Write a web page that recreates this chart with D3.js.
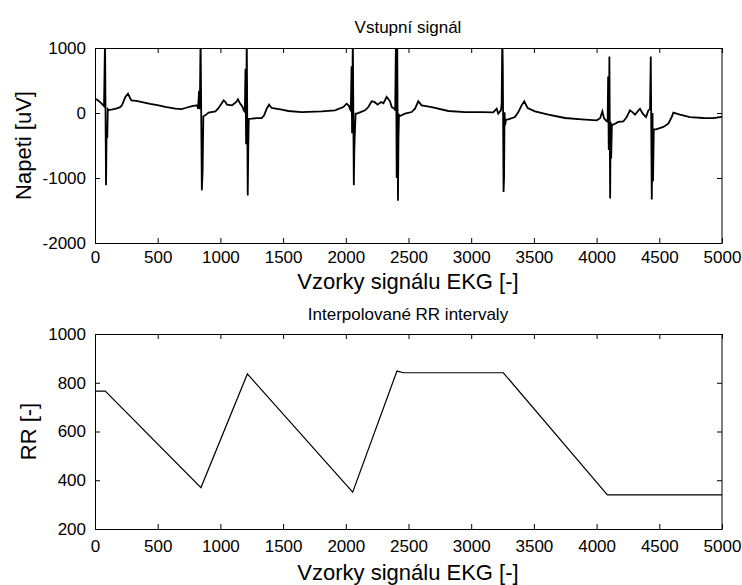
<!DOCTYPE html>
<html>
<head>
<meta charset="utf-8">
<script src="https://cdn.jsdelivr.net/npm/d3@7"></script>
<style>
  html, body { margin: 0; padding: 0; background: #fff; }
  svg { display: block; font-family: "Liberation Sans", Arial, sans-serif; }
</style>
</head>
<body>
<svg id="chart" width="742" height="585"></svg>
<script>
// ---------- DATA ----------
const xTicks = [0, 500, 1000, 1500, 2000, 2500, 3000, 3500, 4000, 4500, 5000];
const ecgYTicks = [-2000, -1000, 0, 1000];
const rrYTicks = [200, 400, 600, 800, 1000];

// ECG input signal: sample index / voltage [uV] (estimated vertices)
const ecgSamples = [
  0, 20, 45, 65, 72,
  80, 88, 92, 98, 102, 110,
  140, 175, 200, 215, 242, 263, 275, 290, 330, 375, 440, 508, 570, 641, 690, 721, 774, 814, 822, 830, 836,
  842, 852, 858, 864,
  880, 906, 960, 981, 1008, 1026, 1040, 1053, 1093, 1127, 1140, 1150, 1159, 1175, 1186, 1195,
  1200, 1205, 1210, 1218, 1222, 1226,
  1250, 1290, 1329, 1349, 1369, 1388, 1409, 1489, 1542, 1648, 1808, 1914, 1980, 2007, 2025, 2034, 2040,
  2046, 2050, 2056, 2064, 2068, 2072, 2078,
  2087, 2113, 2153, 2180, 2206, 2228, 2254, 2281, 2300, 2326, 2353, 2366, 2387, 2394,
  2400, 2406, 2410, 2416, 2420, 2424,
  2432, 2472, 2525, 2552, 2578, 2605, 2685, 2818, 2951, 3084, 3176, 3203, 3216, 3237, 3243,
  3248, 3252, 3258, 3262, 3266, 3270, 3278,
  3296, 3349, 3376, 3402, 3423, 3450, 3509, 3615, 3748, 3881, 4001, 4028, 4046, 4059, 4081, 4088,
  4092, 4097, 4102, 4108, 4112, 4116, 4122,
  4133, 4173, 4213, 4240, 4266, 4288, 4306, 4346, 4368, 4394, 4413, 4426,
  4432, 4440, 4446, 4450, 4456,
  4474, 4532, 4572, 4599, 4612, 4665, 4745, 4851, 4931, 4984, 5000
];
const ecgValues = [
  220, 200, 160, 120, 105,
  1150, -1110, -370, -370, 60, 45,
  55, 70, 90, 118, 246, 298, 250, 195, 185, 169, 140, 118, 90, 66, 60, 77, 107, 118, 66, 340, 60,
  1200, -1190, -900, -50,
  -36, 5, 26, 66, 143, 195, 170, 128, 118, 169, 210, 170, 140, 100, 41, 20,
  680, -480, 1200, -1270, -570, -90,
  -87, -80, -77, -36, 66, 128, 77, 51, 31, 15, 25, 41, 92, 143, 110, 60, 40,
  720, -310, 1200, -1110, -570, -320, -10,
  -10, 10, 41, 92, 180, 170, 128, 169, 150, 246, 180, 92, 66, 40,
  1200, -1000, 1200, -1350, -380, -30,
  -46, -10, 15, 66, 180, 118, 92, 31, 15, 15, 10, 66, -10, 40, 143,
  1200, 720, -1215, -1000, 10, -190, -100,
  -97, -62, 15, 118, 180, 77, 26, -26, -77, -97, -113, -80, 26, -80, -128, -130,
  560, -570, 870, -1315, -140, -700, -180,
  -180, -138, -130, -62, 41, 10, -26, 66, -10, -62, 41, 60,
  870, -1330, 0, -1050, -250,
  -251, -215, -164, -62, 5, -26, -62, -77, -80, -62, -60
];

// Interpolated RR intervals
const rrSamples = [0, 82, 845, 1215, 2055, 2408, 2462, 3256, 4086, 5000];
const rrValues  = [766, 766, 370, 836, 351, 848, 841, 841, 340, 340];

// ---------- DRAWING ----------
const svg = d3.select("#chart");
const x = d3.scaleLinear().domain([0, 5000]).range([95, 722]);
const fmt = d => String(d); // plain hyphen-minus like the reference

function panel(opts) {
  const y = d3.scaleLinear().domain(opts.yDomain).range(opts.yRange);
  const top = opts.yRange[1], bottom = opts.yRange[0];
  const g = svg.append("g");
  const clipId = "clip" + opts.id;
  svg.append("defs").append("clipPath").attr("id", clipId)
    .append("rect").attr("x", 95).attr("y", top).attr("width", 627).attr("height", bottom - top);

  g.append("rect").attr("x", 95).attr("y", top).attr("width", 627).attr("height", bottom - top)
    .attr("fill", "#fff");

  const line = d3.line().x(d => x(d[0])).y(d => y(d[1]));
  const pts = opts.xs.map((v, i) => [v, opts.ys[i]]);
  g.append("path").attr("d", line(pts)).attr("fill", "none").attr("stroke", "#000")
    .attr("stroke-width", opts.lw).attr("stroke-linejoin", "miter").attr("clip-path", `url(#${clipId})`);

  const fs = 17;
  const ax = g.append("g").attr("transform", `translate(0,${bottom})`)
    .call(d3.axisBottom(x).tickValues(xTicks).tickFormat(fmt).tickSizeInner(-5).tickSizeOuter(0).tickPadding(opts.xPad));
  const axT = g.append("g").attr("transform", `translate(0,${top})`)
    .call(d3.axisTop(x).tickValues(xTicks).tickFormat("").tickSizeInner(-5).tickSizeOuter(0));
  const ay = g.append("g").attr("transform", `translate(95,0)`)
    .call(d3.axisLeft(y).tickValues(opts.yTicks).tickFormat(fmt).tickSizeInner(-5).tickSizeOuter(0).tickPadding(9));
  const ayR = g.append("g").attr("transform", `translate(722,0)`)
    .call(d3.axisRight(y).tickValues(opts.yTicks).tickFormat("").tickSizeInner(-5).tickSizeOuter(0));
  [ax, axT, ay, ayR].forEach(a => {
    a.select(".domain").remove();
    a.selectAll("line").attr("stroke", "#000").attr("stroke-width", 1);
    a.selectAll("text").attr("font-size", fs).attr("fill", "#000").attr("font-family", '"Liberation Sans", Arial, sans-serif');
  });

  g.append("rect").attr("x", 95.5).attr("y", top + 0.5).attr("width", 626.5).attr("height", bottom - top)
    .attr("fill", "none").attr("stroke", "#000").attr("stroke-width", 1);

  g.append("text").attr("x", 408).attr("y", opts.titleY).attr("text-anchor", "middle")
    .attr("font-size", 17).text(opts.title);
  g.append("text").attr("x", 408).attr("y", opts.xLabelY).attr("text-anchor", "middle")
    .attr("font-size", 22).text("Vzorky signálu EKG [-]");
  g.append("text").attr("transform", `translate(${opts.yLabelX},${(top + bottom) / 2}) rotate(-90)`)
    .attr("text-anchor", "middle").attr("dy", "0.35em").attr("font-size", 22).text(opts.yLabel);
}

panel({
  id: "ecg", yDomain: [-2000, 1000], yRange: [243, 48], yTicks: ecgYTicks,
  xs: ecgSamples, ys: ecgValues, lw: 1.8, xPad: 8,
  title: "Vstupní signál", titleY: 33, xLabelY: 289, yLabel: "Napeti [uV]", yLabelX: 23
});
panel({
  id: "rr", yDomain: [200, 1000], yRange: [529, 334], yTicks: rrYTicks,
  xs: rrSamples, ys: rrValues, lw: 1.2, xPad: 11,
  title: "Interpolované RR intervaly", titleY: 320, xLabelY: 580, yLabel: "RR [-]", yLabelX: 28
});
</script>
</body>
</html>
